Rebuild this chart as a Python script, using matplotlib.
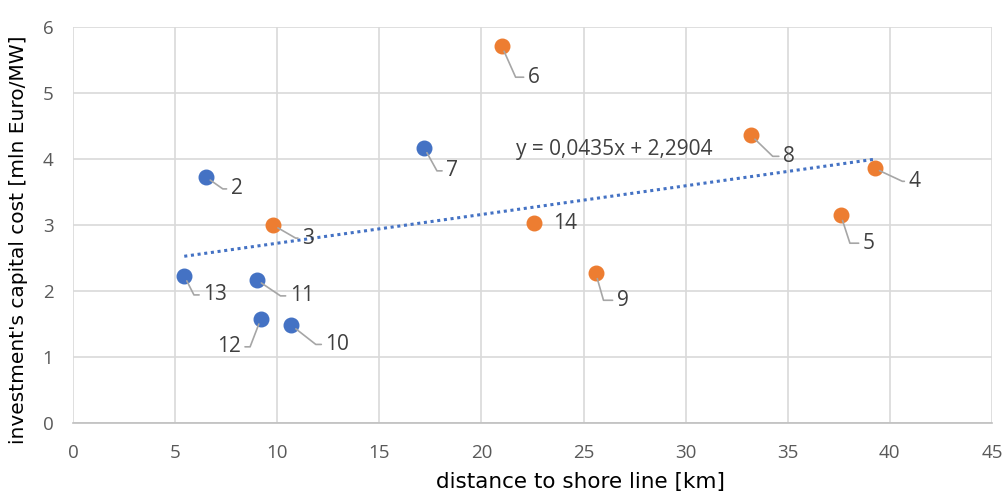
import matplotlib.pyplot as plt
import numpy as np

blue_ids = [2, 7, 10, 11, 12, 13]
blue_x = [6.5, 17.2, 10.7, 9.0, 9.2, 5.45]
blue_y = [3.73, 4.17, 1.48, 2.17, 1.58, 2.23]

orange_ids = [3, 4, 5, 6, 8, 9, 14]
orange_x = [9.8, 39.25, 37.6, 21.0, 33.2, 25.6, 22.6]
orange_y = [3.0, 3.86, 3.15, 5.71, 4.36, 2.27, 3.03]

trend_slope = 0.0435
trend_icept = 2.2904
trend_text = 'y = 0,0435x + 2,2904'

x_ticks = [0, 5, 10, 15, 20, 25, 30, 35, 40, 45]
y_ticks = [0, 1, 2, 3, 4, 5, 6]

# label placement: (dx px, dy px, leader angle, side)
lab_pos = {
    2: (25, 12, -35, 'l'), 3: (29, 13, -30, 'l'), 4: (34, 13, -25, 'l'),
    5: (22, 28, -72, 'l'), 6: (26, 31, -66, 'l'), 7: (22, 23, -61, 'l'),
    8: (32, 21, -44, 'l'), 9: (21, 27, -74, 'l'), 10: (34, 19, -38, 'l'),
    11: (33, 16, -34, 'l'), 12: (-20, 28, -111, 'r'), 13: (19, 19, -63, 'l'),
    14: (19, 0, None, 'l'),
}

plt.rcParams['font.family'] = ['Open Sans', 'DejaVu Sans']

fig = plt.figure(figsize=(10.05, 4.92), dpi=100)
ax = fig.add_axes([0.0726, 0.140, 0.9144, 0.805])

ax.set_xlim(0, 45)
ax.set_ylim(0, 6)
ax.set_xticks(x_ticks)
ax.set_yticks(y_ticks)
ax.grid(True, color='#d9d9d9', lw=1.2)
ax.set_axisbelow(True)
for s in ['top', 'right', 'left']:
    ax.spines[s].set_visible(False)
ax.spines['bottom'].set_color('#bfbfbf')
ax.spines['bottom'].set_linewidth(1.2)
ax.tick_params(axis='x', length=0, labelsize=13.5, labelcolor='#595959', pad=15)
ax.tick_params(axis='y', length=0, labelsize=13.5, labelcolor='#595959', pad=14)

ax.scatter(blue_x, blue_y, s=110, color='#4472c4', zorder=3)
ax.scatter(orange_x, orange_y, s=110, color='#ed7d31', zorder=3)

all_x = np.array(blue_x + orange_x)
tx = np.array([all_x.min(), all_x.max()])
ax.plot(tx, trend_slope * tx + trend_icept, ls=(0, (1, 1.2)), lw=2.2,
        color='#4472c4', zorder=2)
ax.text(21.7, 4.14, trend_text, fontsize=15, color='#404040', va='center')

ids = blue_ids + orange_ids
xs = blue_x + orange_x
ys = blue_y + orange_y
for i, x, y in zip(ids, xs, ys):
    dx, dy, ang, side = lab_pos[i]
    ha = 'left' if side == 'l' else 'right'
    ap = None
    if ang is not None:
        ap = dict(arrowstyle='-', color='#a6a6a6', lw=1.2,
                  connectionstyle='angle,angleA=0,angleB=%d,rad=0' % ang,
                  relpos=(0, 0.5) if side == 'l' else (1, 0.5),
                  shrinkA=1, shrinkB=4)
    ax.annotate(str(i), (x, y), xytext=(dx * 0.72, -dy * 0.72),
                textcoords='offset points', ha=ha, va='center',
                fontsize=15, color='#404040', arrowprops=ap, zorder=4)

ax.set_xlabel('distance to shore line [km]', fontsize=15.5, color='black',
              va='center', family='DejaVu Sans')
ax.set_ylabel("investment's capital cost [mln Euro/MW]", fontsize=14.5,
              color='black', va='center', family='DejaVu Sans')
ax.xaxis.set_label_coords(0.552, -0.149)
ax.yaxis.set_label_coords(-0.0598, 0.462)

plt.savefig('out.png', dpi=100)
